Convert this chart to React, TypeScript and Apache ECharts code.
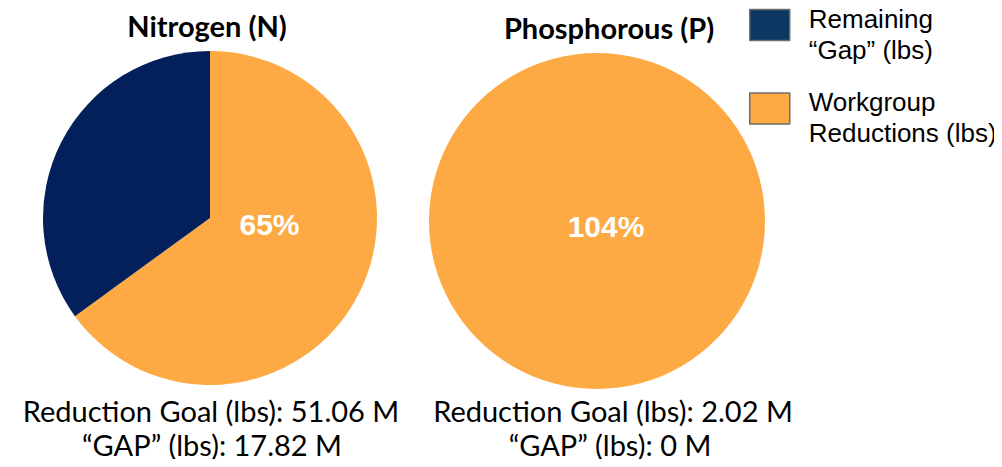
import React, { useEffect, useRef } from "react";
import * as echarts from "echarts";

const pieTitles = ["Nitrogen (N)", "Phosphorous (P)"];
const sliceNames = ["Workgroup\nReductions (lbs)", "Remaining\n“Gap” (lbs)"];
const legendOrder = ["Remaining\n“Gap” (lbs)", "Workgroup\nReductions (lbs)"];
const nitrogenValues = [65, 35];
const phosphorusValues = [104, 0];
const nitrogenNotes = ["Reduction Goal (lbs): 51.06 M", "“GAP” (lbs): 17.82 M"];
const phosphorusNotes = ["Reduction Goal (lbs): 2.02 M", "“GAP” (lbs): 0 M"];

const ORANGE = "#FDAA44";
const NAVY = "#03205B";
const NAVY_LEGEND = "#0B3763";

export default function App() {
  const ref = useRef<HTMLDivElement>(null);
  useEffect(() => {
    if (!ref.current) return;
    const chart = echarts.init(ref.current, null, { renderer: "svg" });

    const makeData = (values: number[]) =>
      values.map((v, i) => ({
        name: sliceNames[i],
        value: v,
        itemStyle: { color: i === 0 ? ORANGE : NAVY },
        label: { show: i === 0 },
      }));

    const labelStyle = (offset: number[]) => ({
      show: true,
      position: "center",
      offset,
      formatter: (p: any) => `${p.value}%`,
      color: "#ffffff",
      fontFamily: "Liberation Sans, Arial, sans-serif",
      fontWeight: "bold",
      fontSize: 30,
    });

    const titleFont = "bold 29px Lato, sans-serif";
    const noteFont = "29px Lato, sans-serif";

    const texts: any[] = [
      { x: 207, y: 25, text: pieTitles[0], font: titleFont },
      { x: 609, y: 27, text: pieTitles[1], font: titleFont },
      { x: 211, y: 410, text: nitrogenNotes[0], font: noteFont },
      { x: 212, y: 444, text: nitrogenNotes[1], font: noteFont },
      { x: 613, y: 410, text: phosphorusNotes[0], font: noteFont },
      { x: 610, y: 444, text: phosphorusNotes[1], font: noteFont },
    ].map((t) => ({
      type: "text",
      x: t.x,
      y: t.y,
      style: {
        text: t.text,
        font: t.font,
        fill: "#000000",
        textAlign: "center",
        textVerticalAlign: "middle",
      },
    }));

    chart.setOption({
      animation: false,
      backgroundColor: "#ffffff",
      legend: {
        orient: "vertical",
        left: 749,
        top: -11,
        padding: 0,
        itemWidth: 40,
        itemHeight: 31,
        itemGap: 10,
        selectedMode: false,
        icon: "rect",
        data: [
          { name: legendOrder[0], itemStyle: { color: NAVY_LEGEND, borderColor: "#6e6e6e", borderWidth: 1.5 } },
          { name: legendOrder[1], itemStyle: { color: ORANGE, borderColor: "#6e6e6e", borderWidth: 1.5 } },
        ],
        formatter: (name: string) =>
          "{pad| }\n" + name.split("\n").map((l) => `{t|${l}}`).join("\n"),
        textStyle: {
          fontFamily: "Liberation Sans, Arial, sans-serif",
          fontSize: 26,
          color: "#000000",
          rich: {
            pad: { fontSize: 10, lineHeight: 18 },
            t: {
              fontFamily: "Liberation Sans, Arial, sans-serif",
              fontSize: 26,
              lineHeight: 31,
              color: "#000000",
              padding: [0, 0, 0, 14],
            },
          },
        },
      },
      series: [
        {
          type: "pie",
          center: [210, 218],
          radius: 167,
          startAngle: 90,
          clockwise: true,
          silent: true,
          labelLine: { show: false },
          label: labelStyle([59.5, 6]),
          data: makeData(nitrogenValues),
        },
        {
          type: "pie",
          center: [597, 221],
          radius: 168,
          startAngle: 90,
          clockwise: true,
          silent: true,
          labelLine: { show: false },
          label: labelStyle([9, 5]),
          data: makeData(phosphorusValues),
        },
      ],
      graphic: texts,
    });

    return () => chart.dispose();
  }, []);

  return <div ref={ref} style={{ width: 1002, height: 467, margin: -8 }} />;
}
